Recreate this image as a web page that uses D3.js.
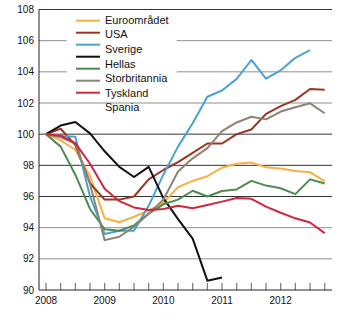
<!DOCTYPE html>
<html><head><meta charset="utf-8">
<script src="https://cdn.jsdelivr.net/npm/d3@7"></script>
<style>
html,body{margin:0;padding:0;background:#fff;}
svg{display:block;font-family:"Liberation Sans",Arial,sans-serif;}
</style></head>
<body>
<svg id="chart" width="350" height="324"></svg>
<script>
const quarters = d3.range(20); // 2008Q1 .. 2012Q4
const yearLabels = ["2008","2009","2010","2011","2012"];
const yTicks = [90,92,94,96,98,100,102,104,106,108];
const seriesNames = ["Euroområdet","USA","Sverige","Hellas","Storbritannia","Tyskland","Spania"];
const seriesColors = ["#F9B041","#9A3522","#4AA2D0","#111111","#4C8A52","#8C8373","#D0273F"];

const euro   = [100,99.6,99.0,97.3,94.6,94.35,94.7,95.1,95.6,96.6,97.0,97.3,97.85,98.1,98.18,97.87,97.8,97.63,97.56,96.97];
const usa    = [100,100.35,99.3,96.85,95.8,95.8,96.0,97.1,97.7,98.2,98.8,99.4,99.4,100.0,100.3,101.3,101.8,102.2,102.9,102.85];
const sverige= [100,99.88,99.84,96.0,93.6,93.8,93.8,95.4,97.4,99.2,100.7,102.4,102.8,103.55,104.76,103.56,104.1,104.9,105.4];
const hellas = [100,100.55,100.78,100.05,98.9,97.9,97.25,97.9,95.9,94.55,93.3,90.6,90.8];
const storbritannia = [100,99.2,97.4,95.2,93.9,93.8,94.15,94.9,95.5,95.8,96.37,96.0,96.35,96.45,97.0,96.7,96.53,96.15,97.1,96.83];
const tyskland = [100,99.8,99.4,96.8,93.2,93.42,94.06,94.9,95.8,97.6,98.45,99.1,100.2,100.75,101.12,100.95,101.45,101.73,101.98,101.34];
const spania = [100,99.9,99.42,98.1,96.5,95.7,95.3,95.13,95.2,95.4,95.25,95.45,95.67,95.9,95.85,95.35,94.96,94.6,94.33,93.65];

const seriesData = [euro,usa,sverige,hellas,storbritannia,tyskland,spania];

const svg = d3.select("#chart");
const x = d3.scaleLinear().domain([0,19]).range([46,324.7]);
const y = d3.scaleLinear().domain([90,108]).range([290,9.5]);
const left = 39, right = 332;

const darkGrid = new Set([108,100,98,96]);
// gridlines
svg.append("g").selectAll("line").data(yTicks.filter(d=>d>90)).join("line")
  .attr("x1",left).attr("x2",right)
  .attr("y1",d=>y(d)).attr("y2",d=>y(d))
  .attr("stroke",d=>darkGrid.has(d)?"#333":"#8f8f8f").attr("stroke-width",1);

// legend white box
svg.append("rect").attr("x",66.7).attr("y",13).attr("width",110).attr("height",86).attr("fill","#fff");

// y axis labels
svg.append("g").selectAll("text").data(yTicks).join("text")
  .attr("x",34).attr("y",d=>y(d)).attr("dy","0.35em")
  .attr("text-anchor","end").attr("font-size",10).attr("fill","#111")
  .text(d=>d);

// x axis ticks
svg.append("g").selectAll("line").data(quarters).join("line")
  .attr("x1",d=>x(d)).attr("x2",d=>x(d)).attr("y1",290).attr("y2",283)
  .attr("stroke","#777").attr("stroke-width",1.2);

// x labels
svg.append("g").selectAll("text").data(yearLabels).join("text")
  .attr("x",(d,i)=>x(i*4)).attr("y",303.5)
  .attr("text-anchor","middle").attr("font-size",10).attr("fill","#111")
  .text(d=>d);

// axes lines
svg.append("line").attr("x1",left).attr("x2",left).attr("y1",y(108)).attr("y2",290)
  .attr("stroke","#222").attr("stroke-width",1);
svg.append("line").attr("x1",left).attr("x2",right).attr("y1",290).attr("y2",290)
  .attr("stroke","#222").attr("stroke-width",1);

// series lines
const line = d3.line().x((d,i)=>x(i)).y(d=>y(d));
svg.append("g").selectAll("path").data(seriesData).join("path")
  .attr("d",line).attr("fill","none")
  .attr("stroke",(d,i)=>seriesColors[i]).attr("stroke-width",2)
  .attr("stroke-linejoin","round");

// legend
const lg = svg.append("g");
lg.selectAll("line").data(seriesNames).join("line")
  .attr("x1",76).attr("x2",100)
  .attr("y1",(d,i)=>20.7+i*12).attr("y2",(d,i)=>20.7+i*12)
  .attr("stroke",(d,i)=>seriesColors[i]).attr("stroke-width",2);
lg.selectAll("text").data(seriesNames).join("text")
  .attr("x",105).attr("y",(d,i)=>20+i*14.6).attr("dy","0.35em")
  .attr("font-size",11).attr("fill","#111")
  .text(d=>d);
</script>
</body></html>
